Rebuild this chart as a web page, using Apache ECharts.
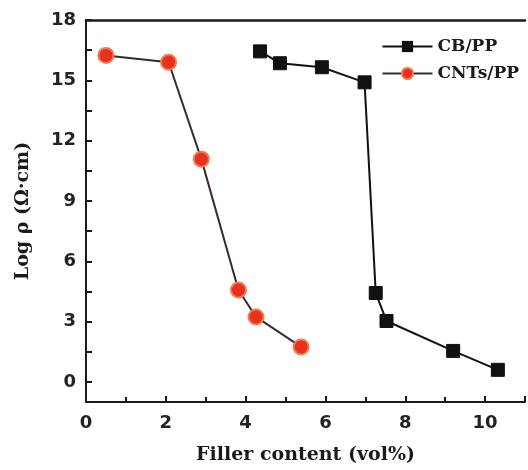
<!DOCTYPE html>
<html><head><meta charset="utf-8">
<script src="https://cdn.jsdelivr.net/npm/echarts@6/dist/echarts.min.js"></script>
<style>html,body{margin:0;padding:0;background:#fff}#c{width:528px;height:470px}</style>
</head><body><div id="c"></div>
<script>
const cbX = [4.36, 4.86, 5.91, 6.98, 7.26, 7.53, 9.2, 10.32];
const cbY = [16.44, 15.85, 15.65, 14.9, 4.42, 3.03, 1.54, 0.6];
const cntX = [0.5, 2.07, 2.89, 3.82, 4.26, 5.39];
const cntY = [16.24, 15.9, 11.08, 4.57, 3.23, 1.74];
const xTicks = [0, 2, 4, 6, 8, 10];
const yTicks = [0, 3, 6, 9, 12, 15, 18];
const yMinorTicks = [1.5, 4.5, 7.5, 10.5, 13.5, 16.5];
const seriesNames = ['CB/PP', 'CNTs/PP'];

const pair = (xs, ys) => xs.map((x, i) => [x, ys[i]]);
const chart = echarts.init(document.getElementById('c'));
const serif = '"DejaVu Serif", serif';
const sans = '"DejaVu Sans", sans-serif';
chart.setOption({
  animation: false,
  backgroundColor: '#fff',
  grid: { left: 86, top: 20, right: 1, bottom: 68, containLabel: false },
  legend: {
    right: 4, top: 33, orient: 'vertical', itemGap: 10,
    itemWidth: 50, itemHeight: 14,
    textStyle: { fontFamily: serif, fontWeight: 'bold', fontSize: 17, color: '#1a1a1a' },
    data: seriesNames
  },
  xAxis: [{
    type: 'value', min: 0, max: 11, interval: 2,
    axisLine: { show: true, onZero: false, lineStyle: { color: '#1a1a1a', width: 2 } },
    axisTick: { show: true, inside: true, length: 6, lineStyle: { color: '#1a1a1a', width: 2 } },
    minorTick: { show: true, splitNumber: 2, length: 5, lineStyle: { color: '#1a1a1a', width: 2 } },
    splitLine: { show: false },
    axisLabel: {
      margin: 12, fontFamily: sans, fontWeight: 'bold', fontSize: 18, color: '#222',
      formatter: v => xTicks.includes(v) ? String(v) : ''
    },
    name: 'Filler content (vol%)', nameLocation: 'middle', nameGap: 44,
    nameTextStyle: { fontFamily: serif, fontWeight: 'bold', fontSize: 19, color: '#1a1a1a' }
  }, {
    type: 'value', position: 'top', min: 0, max: 11,
    axisLine: { show: true, onZero: false, lineStyle: { color: '#1a1a1a', width: 2.5 } },
    axisTick: { show: false }, axisLabel: { show: false }, splitLine: { show: false }
  }],
  yAxis: {
    type: 'value', min: -1, max: 18,
    axisLine: { show: true, onZero: false, lineStyle: { color: '#1a1a1a', width: 2 } },
    axisTick: { show: true, inside: true, length: 6, customValues: yTicks.concat(yMinorTicks),
      lineStyle: { color: '#1a1a1a', width: 2 } },
    splitLine: { show: false },
    axisLabel: {
      margin: 10, fontFamily: sans, fontWeight: 'bold', fontSize: 18, color: '#222',
      customValues: yTicks
    },
    name: 'Log ρ (Ω·cm)', nameLocation: 'middle', nameGap: 53, nameRotate: 90,
    nameTextStyle: { fontFamily: serif, fontWeight: 'bold', fontSize: 19, color: '#1a1a1a' }
  },
  series: [{
    name: seriesNames[0], type: 'line', data: pair(cbX, cbY),
    symbol: 'rect', symbolSize: 13,
    lineStyle: { color: '#111', width: 2 },
    itemStyle: { color: '#111', borderColor: '#111' }
  }, {
    name: seriesNames[1], type: 'line', data: pair(cntX, cntY),
    symbol: 'circle', symbolSize: 15,
    lineStyle: { color: '#3a2a2a', width: 2 },
    itemStyle: { color: '#e8301c', borderColor: '#f07a50', borderWidth: 2 }
  }]
});
</script></body></html>
